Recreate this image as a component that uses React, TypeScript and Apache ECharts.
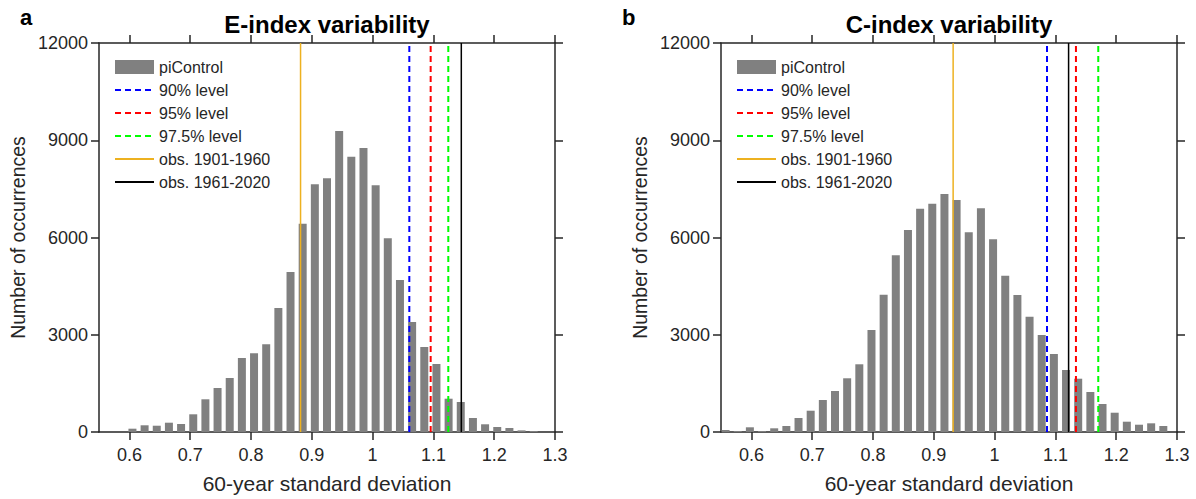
import React, { useEffect, useRef } from "react";
import * as echarts from "echarts";

// ---- data ----
const xTicks = [0.6, 0.7, 0.8, 0.9, 1.0, 1.1, 1.2, 1.3];
const yTicksMax = 12000;

const eCenters = [
  0.605, 0.625, 0.645, 0.665, 0.685, 0.705, 0.725, 0.745, 0.765, 0.785,
  0.805, 0.825, 0.845, 0.865, 0.885, 0.905, 0.925, 0.945, 0.965, 0.985,
  1.005, 1.025, 1.045, 1.065, 1.085, 1.105, 1.125, 1.145, 1.165, 1.185,
  1.205, 1.225, 1.245, 1.265,
];
const eCounts = [
  102, 207, 194, 287, 247, 546, 1009, 1357, 1666, 2283,
  2428, 2706, 3825, 4936, 6426, 7641, 7826, 9286, 8493, 8761,
  7611, 5976, 4689, 3394, 2622, 2098, 1027, 926, 432, 238,
  154, 123, 50, 30,
];

const cCenters = [
  0.5575, 0.5775, 0.5975, 0.6175, 0.6375, 0.6575, 0.6775, 0.6975, 0.7175, 0.7375,
  0.7575, 0.7775, 0.7975, 0.8175, 0.8375, 0.8575, 0.8775, 0.8975, 0.9175, 0.9375,
  0.9575, 0.9775, 0.9975, 1.0175, 1.0375, 1.0575, 1.0775, 1.0975, 1.1175, 1.1375,
  1.1575, 1.1775, 1.1975, 1.2175, 1.2375, 1.2575, 1.2775,
];
const cCounts = [
  62, 31, 145, 31, 114, 185, 432, 657, 987, 1265,
  1657, 2089, 3147, 4236, 5451, 6232, 6889, 7043, 7342, 7157,
  6161, 6901, 5945, 4822, 4226, 3557, 2992, 2406, 1913, 1644,
  1234, 864, 595, 318, 225, 268, 185,
];

// vertical reference lines: [90%, 95%, 97.5%, obs 1901-1960, obs 1961-2020]
const levelNames = ["90% level", "95% level", "97.5% level", "obs. 1901-1960", "obs. 1961-2020"];
const eLevels = [1.0604, 1.0955, 1.1245, 0.8815, 1.1459];
const cLevels = [1.0862, 1.1338, 1.1705, 0.9318, 1.1217];

const titles = ["E-index variability", "C-index variability"];
const panelLabels = ["a", "b"];

// ---- styles ----
const FONT = "'Liberation Sans', Arial, Helvetica, sans-serif";
const AX = "#262626";
const levelStyles = [
  { color: "#0000ff", type: [6, 4], width: 2 },
  { color: "#ff0000", type: [6, 4], width: 2 },
  { color: "#00ff00", type: [6, 4], width: 2 },
  { color: "#EDB120", type: "solid", width: 1.5 },
  { color: "#000000", type: "solid", width: 1.5 },
];

const grids = [
  { left: 99, top: 43, width: 456, height: 389 },
  { left: 721, top: 43, width: 456, height: 389 },
];

export default function App() {
  const ref = useRef<HTMLDivElement>(null);

  useEffect(() => {
    if (!ref.current) return;
    const chart = echarts.init(ref.current, undefined, { renderer: "svg" });

    const xAxes: any[] = [];
    const yAxes: any[] = [];
    const series: any[] = [];
    const legends: any[] = [];
    const titleArr: any[] = [];
    const graphics: any[] = [];

    const datasets = [
      { centers: eCenters, counts: eCounts, levels: eLevels },
      { centers: cCenters, counts: cCounts, levels: cLevels },
    ];

    datasets.forEach((ds, g) => {
      const lineAx = { show: true, onZero: false, lineStyle: { color: AX, width: 1.5 } };
      const tickAx = { show: true, length: 8, lineStyle: { color: AX, width: 1.5 } };
      xAxes.push({
        type: "value",
        gridIndex: g,
        position: "bottom",
        min: 0.55,
        max: 1.3,
        axisLine: lineAx,
        axisTick: { ...tickAx, customValues: xTicks },
        axisLabel: {
          show: true,
          customValues: xTicks,
          fontSize: 18,
          color: AX,
          margin: 14,
          fontFamily: FONT,
          formatter: (v: number) => String(+v.toFixed(1)),
        },
        splitLine: { show: false },
        name: "60-year standard deviation",
        nameLocation: "middle",
        nameGap: 41,
        nameTextStyle: { fontSize: 21, color: AX, fontFamily: FONT },
      });
      xAxes.push({
        type: "value",
        gridIndex: g,
        position: "top",
        min: 0.55,
        max: 1.3,
        axisLine: lineAx,
        axisTick: { ...tickAx, customValues: xTicks },
        axisLabel: { show: false },
        splitLine: { show: false },
      });
      yAxes.push({
        type: "value",
        gridIndex: g,
        position: "left",
        min: 0,
        max: yTicksMax,
        interval: 3000,
        axisLine: lineAx,
        axisTick: tickAx,
        axisLabel: {
          show: true,
          fontSize: 18,
          color: AX,
          margin: 11,
          fontFamily: FONT,
          formatter: (v: number) => String(v),
        },
        splitLine: { show: false },
        name: "Number of occurrences",
        nameLocation: "middle",
        nameGap: 71,
        nameTextStyle: { fontSize: 19.5, color: AX, fontFamily: FONT },
      });
      yAxes.push({
        type: "value",
        gridIndex: g,
        position: "right",
        min: 0,
        max: yTicksMax,
        interval: 3000,
        axisLine: lineAx,
        axisTick: tickAx,
        axisLabel: { show: false },
        splitLine: { show: false },
      });

      series.push({
        type: "bar",
        name: "piControl",
        xAxisIndex: g * 2,
        yAxisIndex: g * 2,
        data: ds.centers.map((c, i) => [c, ds.counts[i]]),
        barWidth: 8,
        itemStyle: { color: "#808080" },
        z: 2,
      });
      ds.levels.forEach((x, k) => {
        const st = levelStyles[k];
        series.push({
          type: "line",
          name: levelNames[k],
          xAxisIndex: g * 2,
          yAxisIndex: g * 2,
          data: [
            [x, 0],
            [x, yTicksMax],
          ],
          symbol: "none",
          silent: true,
          itemStyle: { color: st.color },
          lineStyle: { color: st.color, width: st.width, type: st.type },
          z: 3,
        });
      });

      legends.push({
        orient: "vertical",
        left: grids[g].left + 15,
        top: 59,
        padding: 0,
        itemWidth: 39,
        itemHeight: 14,
        itemGap: 7,
        selectedMode: false,
        textStyle: { fontSize: 16, color: AX, fontFamily: FONT },
        data: [
          { name: "piControl", icon: "rect" },
          ...levelNames.map((n) => ({
            name: n,
            itemStyle: { color: "transparent", borderWidth: 0, opacity: 0 },
          })),
        ],
      });

      titleArr.push({
        text: titles[g],
        left: grids[g].left + grids[g].width / 2,
        top: 12,
        textAlign: "center",
        padding: 0,
        textStyle: { fontSize: 24, fontWeight: "bold", color: "#000", fontFamily: FONT },
      });

      graphics.push({
        type: "text",
        left: g === 0 ? 20 : 622,
        top: 6,
        style: { text: panelLabels[g], font: `bold 22px ${FONT}`, fill: "#000" },
      });
    });

    chart.setOption({
      animation: false,
      backgroundColor: "#fff",
      textStyle: { fontFamily: FONT },
      title: titleArr,
      grid: grids,
      xAxis: xAxes,
      yAxis: yAxes,
      legend: legends,
      series,
      graphic: graphics,
    });

    return () => chart.dispose();
  }, []);

  return (
    <div
      ref={ref}
      style={{ position: "fixed", left: 0, top: 0, width: 1196, height: 499, background: "#fff" }}
    />
  );
}
